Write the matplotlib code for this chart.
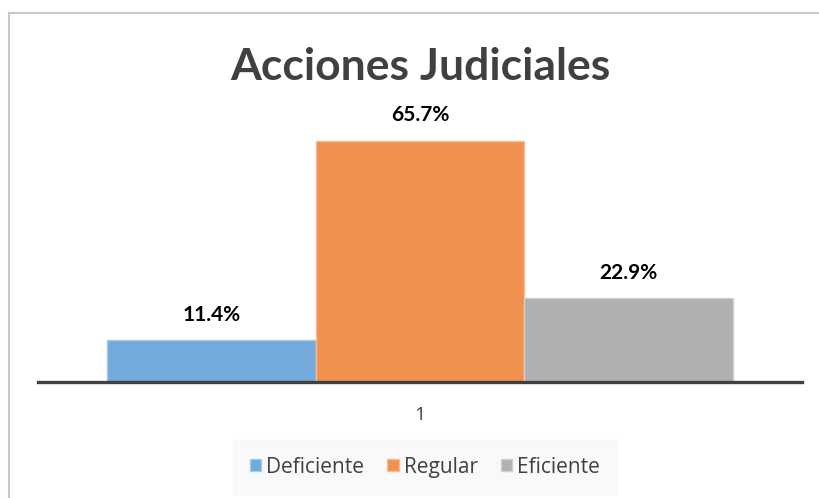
import matplotlib
matplotlib.use("Agg")
import matplotlib.pyplot as plt
from matplotlib.lines import Line2D

categories = ["1"]
series = ["Deficiente", "Regular", "Eficiente"]
values = [11.4, 65.7, 22.9]
labels = ["11.4%", "65.7%", "22.9%"]
colors = ["#73A9DB", "#F0914F", "#B0B0B0"]
edges = ["#A9CBEA", "#F6BC93", "#D0D0D0"]

W, H = 819, 498
fig = plt.figure(figsize=(W / 100, H / 100), dpi=100)
plt.rcParams['font.family'] = ['Lato', 'DejaVu Sans']

# figure border (left and top visible)
fig.add_artist(Line2D([8.5 / W, 8.5 / W], [0, 1 - 13 / H], transform=fig.transFigure,
                      color="#C8C8C8", lw=1.5))
fig.add_artist(Line2D([8.5 / W, 1], [1 - 13 / H, 1 - 13 / H], transform=fig.transFigure,
                      color="#C8C8C8", lw=1.5))

left, right = 38, 802
top, bottom = 125, 382
ax = fig.add_axes([left / W, 1 - bottom / H, (right - left) / W, (bottom - top) / H])

bw = 1.0
offsets = [-1, 0, 1]
for i, (s, v, c, e) in enumerate(zip(series, values, colors, edges)):
    ax.bar(offsets[i] * bw, v, width=bw, color=c, edgecolor=e, linewidth=1.0, label=s, zorder=2)
    ax.text(offsets[i] * bw, v + 6.9, labels[i], ha="center", va="center",
            fontsize=15, fontweight="bold", color="#000000")

ax.set_xlim(-1.83, 1.83)
ax.set_ylim(0, 70)
for sp in ["top", "right", "left"]:
    ax.spines[sp].set_visible(False)
ax.spines["bottom"].set_color("#404040")
ax.spines["bottom"].set_linewidth(2.4)
ax.spines["bottom"].set_zorder(3)
ax.set_yticks([])
ax.set_xticks([0])
ax.set_xticklabels(categories, fontsize=14, color="#404040", family=["Open Sans", "DejaVu Sans"])
ax.tick_params(axis="x", length=0, pad=17)

fig.text(420 / W, 1 - 67 / H, "Acciones Judiciales", ha="center", va="center",
         fontsize=32, fontweight="bold", color="#404040")

leg = fig.legend(loc="center", bbox_to_anchor=(425 / W, 1 - 467 / H), ncol=3,
                 frameon=True, prop={"family": ["Open Sans", "DejaVu Sans"], "size": 15},
                 handlelength=0.55, handleheight=0.55,
                 handletextpad=0.25, columnspacing=1.1, borderpad=0.5, borderaxespad=0)
leg.get_frame().set_facecolor("#F8F8F8")
leg.get_frame().set_edgecolor("#F8F8F8")
leg.get_frame().set_boxstyle("square")
for t in leg.get_texts():
    t.set_color("#404040")

fig.savefig("out.png", dpi=100)
